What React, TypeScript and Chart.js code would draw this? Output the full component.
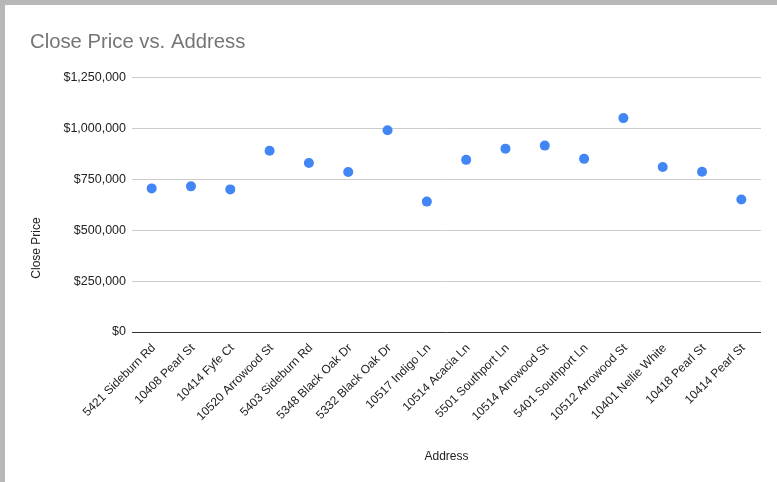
import React, { useEffect, useRef } from 'react';
import { Chart, registerables } from 'chart.js';

Chart.register(...registerables);

const chartTitle = 'Close Price vs. Address';
const xAxisTitle = 'Address';
const yAxisTitle = 'Close Price';

const addresses = [
  '5421 Sideburn Rd',
  '10408 Pearl St',
  '10414 Fyfe Ct',
  '10520 Arrowood St',
  '5403 Sideburn Rd',
  '5348 Black Oak Dr',
  '5332 Black Oak Dr',
  '10517 Indigo Ln',
  '10514 Acacia Ln',
  '5501 Southport Ln',
  '10514 Arrowood St',
  '5401 Southport Ln',
  '10512 Arrowood St',
  '10401 Nellie White',
  '10418 Pearl St',
  '10414 Pearl St',
];

const closePrices = [
  705000, 715000, 700000, 890000, 830000, 785000, 990000, 640000,
  845000, 900000, 915000, 850000, 1050000, 810000, 787000, 650000,
];

const yTickValues = [0, 250000, 500000, 750000, 1000000, 1250000];

const FONT = '"Liberation Sans", Arial, Helvetica, sans-serif';

const yTitlePlugin = {
  id: 'yTitleCustom',
  afterDraw(chart: any) {
    const { ctx, chartArea } = chart;
    ctx.save();
    ctx.translate(chartArea.left - 95, chartArea.bottom - 84);
    ctx.rotate(-Math.PI / 2);
    ctx.font = `12px ${FONT}`;
    ctx.fillStyle = '#222222';
    ctx.textAlign = 'center';
    ctx.textBaseline = 'middle';
    ctx.fillText(yAxisTitle, 0, 0);
    ctx.restore();
  },
};

export default function App() {
  const canvasRef = useRef<HTMLCanvasElement | null>(null);

  useEffect(() => {
    document.body.style.margin = '0';
    const canvas = canvasRef.current;
    if (!canvas) return;
    const chart = new Chart(canvas, {
      type: 'line',
      data: {
        labels: addresses,
        datasets: [
          {
            label: yAxisTitle,
            data: closePrices,
            showLine: false,
            pointRadius: 5,
            pointHoverRadius: 5,
            pointBorderWidth: 0,
            pointBackgroundColor: '#4285f4',
            pointBorderColor: '#4285f4',
            borderColor: '#4285f4',
            backgroundColor: '#4285f4',
          },
        ],
      },
      options: {
        animation: false,
        responsive: true,
        maintainAspectRatio: false,
        layout: { padding: { left: 25, right: 16, top: 0, bottom: 18 } },
        plugins: {
          legend: { display: false },
          tooltip: { enabled: false },
          title: {
            display: true,
            text: chartTitle,
            align: 'start',
            color: '#757575',
            font: { family: FONT, size: 20.3, weight: 'normal' },
            padding: { top: 25, bottom: 23 },
          },
        },
        scales: {
          x: {
            type: 'category',
            offset: true,
            grid: { display: false, drawTicks: false },
            border: { display: false },
            ticks: {
              autoSkip: false,
              maxRotation: 45,
              minRotation: 45,
              padding: 9,
              labelOffset: 2,
              color: '#222222',
              font: { family: FONT, size: 12 },
            },
            title: {
              display: true,
              text: xAxisTitle,
              color: '#222222',
              padding: 0,
              font: { family: FONT, size: 12 },
            },
            afterFit(scale: any) {
              scale.height = 132;
            },
          },
          y: {
            min: 0,
            max: 1250000,
            grid: {
              drawTicks: false,
              color: (c: any) => (c.tick && c.tick.value === 0 ? '#333333' : '#cccccc'),
            },
            border: { display: false },
            afterBuildTicks(scale: any) {
              scale.ticks = yTickValues.map((v) => ({ value: v }));
            },
            ticks: {
              padding: 6,
              color: '#222222',
              font: { family: FONT, size: 12.5 },
              callback: (v: any) => '$' + Number(v).toLocaleString('en-US'),
            },
            afterFit(scale: any) {
              scale.width = 102;
            },
          },
        },
      },
      plugins: [yTitlePlugin],
    });
    return () => chart.destroy();
  }, []);

  return (
    <div style={{ position: 'absolute', left: 0, top: 0, width: 777, height: 482, background: '#b7b7b7' }}>
      <div style={{ position: 'absolute', left: 5, top: 5, width: 772, height: 477, background: '#ffffff' }}>
        <canvas ref={canvasRef} />
      </div>
    </div>
  );
}
